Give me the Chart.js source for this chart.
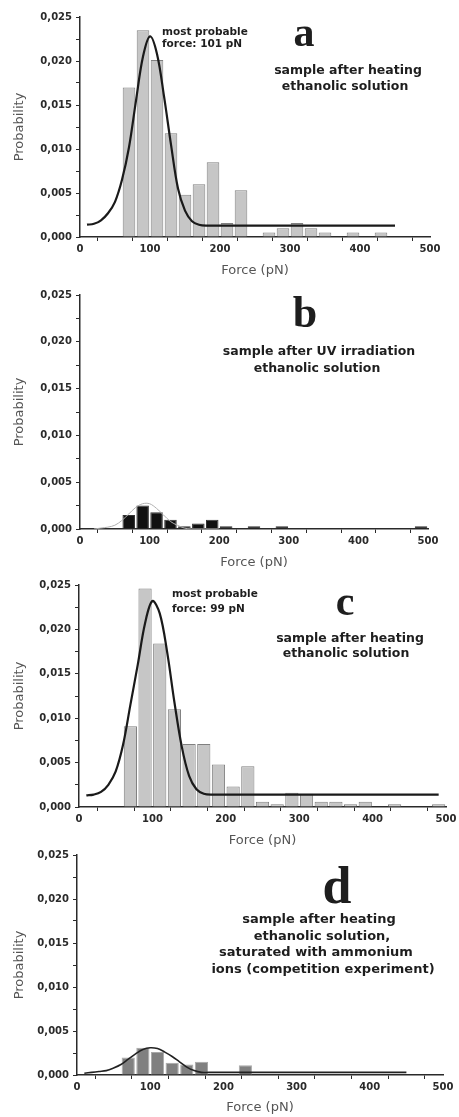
<!DOCTYPE html>
<html>
<head>
<meta charset="utf-8">
<script src="https://cdn.jsdelivr.net/npm/chart.js@4.4.1/dist/chart.umd.min.js"></script>
<style>
  body { margin: 0; background: #fff; }
  .panel { position: absolute; left: 0; }
</style>
</head>
<body>
<canvas id="chartA" class="panel" style="top:0px" width="459" height="285"></canvas>
<canvas id="chartB" class="panel" style="top:285px" width="459" height="285"></canvas>
<canvas id="chartC" class="panel" style="top:570px" width="459" height="280"></canvas>
<canvas id="chartD" class="panel" style="top:845px" width="459" height="272"></canvas>
<script>
// histogram bins (centre of each 20 pN bin)
const binCenters = [70, 90, 110, 130, 150, 170, 190, 210, 230, 250, 270, 290, 310, 330, 350, 370, 390, 410, 430, 450, 470, 490];

// probabilities per bin
const probA = [0.0170, 0.0235, 0.0201, 0.0118, 0.0048, 0.0060, 0.0085, 0.0016, 0.0053, 0, 0.0005, 0.0010, 0.0016, 0.0010, 0.0005, 0, 0.0005, 0, 0.0005, 0, 0, 0];
const probB = [0.0015, 0.0025, 0.0018, 0.0010, 0.0003, 0.0006, 0.0010, 0.0003, 0, 0.0003, 0, 0.0003, 0, 0, 0, 0, 0, 0, 0, 0, 0, 0.0003];
const probC = [0.0091, 0.0246, 0.0184, 0.0110, 0.0071, 0.0071, 0.0048, 0.0023, 0.0046, 0.0006, 0.0003, 0.0016, 0.0015, 0.0006, 0.0006, 0.0003, 0.0006, 0, 0.0003, 0, 0, 0.0003];
const probD = [0.0020, 0.0031, 0.0026, 0.0014, 0.0012, 0.0015, 0, 0, 0.0011, 0, 0, 0, 0, 0, 0, 0, 0, 0, 0, 0, 0, 0];

// fitted curves
const fitXA = [10, 20, 30, 40, 50, 60, 70, 80, 90, 100, 110, 120, 130, 140, 150, 160, 170, 180, 250, 350, 450];
const fitYA = [0.0014, 0.0015, 0.0019, 0.0027, 0.0040, 0.0065, 0.0102, 0.0155, 0.0205, 0.0228, 0.0208, 0.0160, 0.0105, 0.0055, 0.0030, 0.0018, 0.0014, 0.0013, 0.0013, 0.0013, 0.0013];
const fitXB = [20, 30, 40, 50, 60, 70, 80, 90, 100, 110, 120, 130, 140, 150, 160, 200];
const fitYB = [0, 0.0001, 0.0002, 0.0004, 0.0009, 0.0016, 0.0023, 0.0027, 0.0027, 0.0022, 0.0015, 0.0008, 0.0004, 0.0001, 0, 0];
const fitXC = [10, 20, 30, 40, 50, 60, 70, 80, 90, 100, 110, 120, 130, 140, 150, 160, 170, 180, 300, 490];
const fitYC = [0.0013, 0.0014, 0.0017, 0.0025, 0.0040, 0.0070, 0.0115, 0.0160, 0.0207, 0.0232, 0.0218, 0.0175, 0.0118, 0.0068, 0.0035, 0.0020, 0.0015, 0.0014, 0.0014, 0.0014];
const fitXD = [10, 20, 30, 40, 50, 60, 70, 80, 90, 100, 110, 120, 130, 140, 150, 160, 170, 180, 300, 450];
const fitYD = [0.0002, 0.0003, 0.0004, 0.0005, 0.0008, 0.0012, 0.0018, 0.0024, 0.0029, 0.0031, 0.0030, 0.0026, 0.0021, 0.0015, 0.0009, 0.0005, 0.0003, 0.0003, 0.0003, 0.0003];

const tickFont = { family: "'DejaVu Sans', sans-serif", size: 10, weight: 'bold' };
const titleFont = { family: "'DejaVu Sans', sans-serif", size: 13 };

// draws the panel letter and the notes
const notesPlugin = {
    id: 'notes',
    afterDraw(chart) {
        const ctx = chart.ctx;
        const notes = chart.options.plugins.notes.items || [];
        ctx.save();
        notes.forEach(n => {
            ctx.font = n.font;
            ctx.fillStyle = '#1e1e1e';
            ctx.textAlign = n.align || 'center';
            ctx.textBaseline = n.baseline || 'middle';
            ctx.fillText(n.text, n.x, n.y);
        });
        ctx.restore();
    }
};

function makePanel(id, p) {
    const barData = binCenters.map((x, i) => ({ x: x, y: p.prob[i] }));
    const fitData = p.fitX.map((x, i) => ({ x: x, y: p.fitY[i] }));
    new Chart(document.getElementById(id), {
        type: 'bar',
        data: {
            datasets: [
                {
                    type: 'line',
                    data: fitData,
                    borderColor: p.lineColor,
                    borderWidth: p.lineWidth,
                    pointRadius: 0,
                    tension: 0.35,
                    order: 1
                },
                {
                    type: 'bar',
                    data: barData,
                    backgroundColor: p.barFill,
                    borderColor: p.barBorder,
                    borderWidth: 1,
                    categoryPercentage: 1,
                    barPercentage: 0.9,
                    order: 2
                }
            ]
        },
        options: {
            responsive: false,
            animation: false,
            layout: { padding: { left: 0, top: p.padTop, right: p.padRight, bottom: 0 } },
            plugins: {
                legend: { display: false },
                tooltip: { enabled: false },
                notes: { items: p.notes }
            },
            scales: {
                x: {
                    type: 'linear',
                    min: 0,
                    max: 500,
                    offset: false,
                    afterFit: s => { s.height = p.xAxisH; },
                    border: { color: '#2a2a2a', width: 1.5 },
                    grid: { drawOnChartArea: false, tickLength: 4, color: '#2a2a2a' },
                    ticks: {
                        stepSize: 50,
                        padding: 2,
                        maxRotation: 0,
                        autoSkip: false,
                        color: '#2a2a2a',
                        font: tickFont,
                        callback: v => (v % 100 === 0 ? String(v) : '')
                    },
                    title: { display: true, text: 'Force (pN)', color: '#555', font: titleFont, padding: { top: 0, bottom: p.xTitlePad } }
                },
                y: {
                    min: 0,
                    max: 0.025,
                    afterFit: s => { s.width = p.yAxisW; },
                    border: { color: '#2a2a2a', width: 1.5 },
                    grid: { drawOnChartArea: false, tickLength: 4, color: '#2a2a2a' },
                    ticks: {
                        stepSize: 0.0025,
                        padding: 4,
                        autoSkip: false,
                        color: '#2a2a2a',
                        font: tickFont,
                        callback: v => (Math.round(v / 0.0025) % 2 === 0 ? v.toFixed(3).replace('.', ',') : '')
                    },
                    title: { display: true, text: 'Probability', color: '#555', font: titleFont, padding: { top: 12, bottom: 0 } }
                }
            }
        },
        plugins: [notesPlugin]
    });
}

const noteFont = "bold 12.5px 'DejaVu Sans'";
const noteFontD = "bold 13px 'DejaVu Sans'";
const smallFont = "bold 10.5px 'DejaVu Sans'";
const letter = size => "bold " + size + "px 'Liberation Serif'";

makePanel('chartA', {
    prob: probA, fitX: fitXA, fitY: fitYA,
    barFill: '#c6c6c6', barBorder: '#808080', lineColor: '#1a1a1a', lineWidth: 2.2,
    padTop: 17, padRight: 29, yAxisW: 80, xAxisH: 48, xTitlePad: 7,
    notes: [
        { text: 'a', x: 304, y: 46, font: letter(42), baseline: 'alphabetic' },
        { text: 'most probable', x: 162, y: 32, font: smallFont, align: 'left' },
        { text: 'force: 101 pN', x: 162, y: 44, font: smallFont, align: 'left' },
        { text: 'sample after heating', x: 348, y: 71, font: noteFont },
        { text: 'ethanolic solution', x: 345, y: 87, font: noteFont }
    ]
});

makePanel('chartB', {
    prob: probB, fitX: fitXB, fitY: fitYB,
    barFill: '#111111', barBorder: '#333333', lineColor: '#b0b0b0', lineWidth: 1,
    padTop: 10, padRight: 31, yAxisW: 80, xAxisH: 41, xTitlePad: 0,
    notes: [
        { text: 'b', x: 305, y: 42, font: letter(44), baseline: 'alphabetic' },
        { text: 'sample after UV irradiation', x: 319, y: 67, font: noteFont },
        { text: 'ethanolic solution', x: 317, y: 84, font: noteFont }
    ]
});

makePanel('chartC', {
    prob: probC, fitX: fitXC, fitY: fitYC,
    barFill: '#c6c6c6', barBorder: '#808080', lineColor: '#1a1a1a', lineWidth: 2.2,
    padTop: 15, padRight: 13, yAxisW: 79, xAxisH: 43, xTitlePad: 2,
    notes: [
        { text: 'c', x: 345, y: 45, font: letter(42), baseline: 'alphabetic' },
        { text: 'most probable', x: 172, y: 24, font: smallFont, align: 'left' },
        { text: 'force: 99 pN', x: 172, y: 39, font: smallFont, align: 'left' },
        { text: 'sample after heating', x: 350, y: 69, font: noteFont },
        { text: 'ethanolic solution', x: 346, y: 84, font: noteFont }
    ]
});

makePanel('chartD', {
    prob: probD, fitX: fitXD, fitY: fitYD,
    barFill: '#808080', barBorder: '#a8a8a8', lineColor: '#222222', lineWidth: 1.6,
    padTop: 10, padRight: 16, yAxisW: 77, xAxisH: 42, xTitlePad: 2,
    notes: [
        { text: 'd', x: 337, y: 58, font: letter(52), baseline: 'alphabetic' },
        { text: 'sample after heating', x: 319, y: 75, font: noteFontD },
        { text: 'ethanolic solution,', x: 322, y: 92, font: noteFontD },
        { text: 'saturated with ammonium', x: 316, y: 108, font: noteFontD },
        { text: 'ions (competition experiment)', x: 323, y: 125, font: noteFontD }
    ]
});
</script>
</body>
</html>
